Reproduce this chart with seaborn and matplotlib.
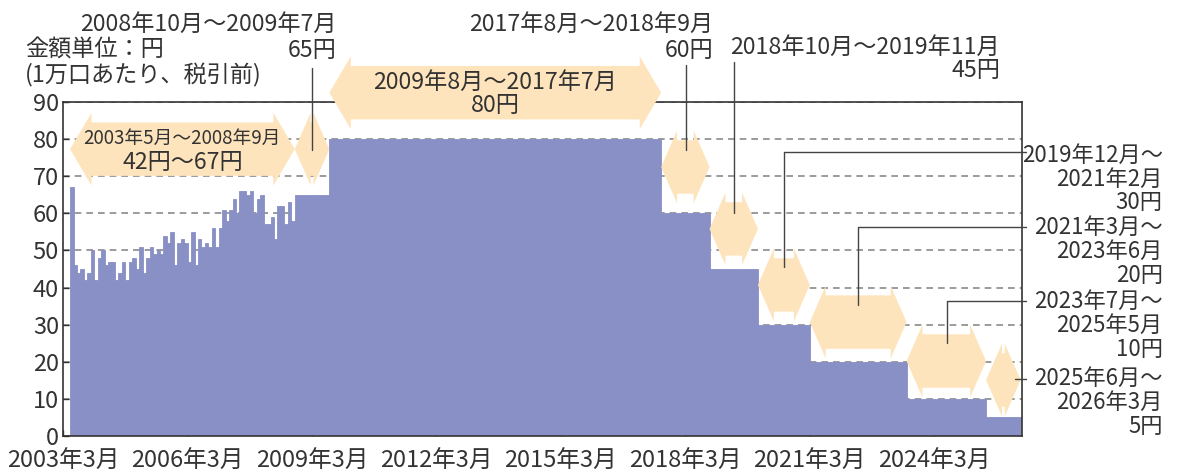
import pandas as pd
import seaborn as sns
import matplotlib.pyplot as plt
from matplotlib.patches import Polygon

# 月次の分配金(円) 2003年5月〜2008年9月
origin = pd.Period("2003-03", "M")
var_start = "2003-05"
var_values = [67, 46, 44, 45, 42, 44, 50, 42, 48, 50, 46, 47, 47, 42, 44, 47, 42, 47, 48, 45,
              51, 44, 48, 51, 49, 50, 49, 54, 52, 55, 46, 52, 53, 52, 47, 55, 46, 53, 51, 52,
              51, 56, 51, 56, 61, 58, 61, 64, 60, 66, 66, 65, 66, 60, 64, 65, 57, 57, 59, 53,
              62, 62, 57, 63, 58]

# 固定額の期間
period_starts = ["2008-10", "2009-08", "2017-08", "2018-10", "2019-12", "2021-03", "2023-07", "2025-06"]
period_ends = ["2009-07", "2017-07", "2018-09", "2019-11", "2021-02", "2023-06", "2025-05", "2026-03"]
period_values = [65, 80, 60, 45, 30, 20, 10, 5]

tick_years = [2003, 2006, 2009, 2012, 2015, 2018, 2021, 2024]
y_ticks = [0, 10, 20, 30, 40, 50, 60, 70, 80, 90]

BAR = "#8990c5"
PEACH = "#fee4bc"
INK = "#333333"
FS = 16.7

def k_of(s):
    return (pd.Period(s, "M") - origin).n

months, values = [], []
p0 = pd.Period(var_start, "M")
for i, v in enumerate(var_values):
    months.append((p0 + i - origin).n)
    values.append(v)
for s, e, v in zip(period_starts, period_ends, period_values):
    for k in range(k_of(s), k_of(e) + 1):
        months.append(k)
        values.append(v)
df = pd.DataFrame({"k": [m + 0.5 for m in months], "value": values})

sns.set_theme(style="ticks")
plt.rcParams["font.family"] = ["Noto Sans CJK JP", "DejaVu Sans"]

fig = plt.figure(figsize=(11.81, 4.71), dpi=100)
ax = fig.add_axes([0.0535, 0.0743, 0.8116, 0.7091])

sns.barplot(data=df, x="k", y="value", native_scale=True, width=1, color=BAR,
            saturation=1, errorbar=None, linewidth=0.6, edgecolor=BAR, ax=ax)

ax.set_xlim(0, 277.3)
ax.set_ylim(0, 90)
ax.set_yticks(y_ticks)
ax.set_xticks([k_of(f"{y}-03") for y in tick_years])
ax.set_xticklabels([f"{y}年3月" for y in tick_years])
ax.set_xlabel("")
ax.set_ylabel("")
ax.yaxis.grid(True, linestyle=(0, (4, 3)), color="#8a8a8a", lw=1.2)
ax.set_axisbelow(True)
ax.tick_params(direction="in", length=4, width=1, color=INK, labelsize=17, labelcolor=INK)
ax.tick_params(axis="x", pad=10)
ax.tick_params(axis="y", pad=3)
for sp in ax.spines.values():
    sp.set_visible(True)
    sp.set_color(INK)
    sp.set_linewidth(1.2)

# 両矢印(期間)
H, B = 9.8, 7.2
arrow_spans = [(var_start, "2008-09")] + list(zip(period_starts, period_ends))
arrow_y = [77.3, 77.3, 92.5, 72.5, 55.8, 40.7, 30.7, 20.2, 15.1]
arrow_head = [6.2, 4.6, 6.2, 4.6, 4.6, 4.6, 4.6, 4.6, 4.6]
for (s, e), yc, hd in zip(arrow_spans, arrow_y, arrow_head):
    x0, x1 = k_of(s), k_of(e) + 1
    h = min(hd, (x1 - x0) / 2)
    pts = [(x0, yc), (x0 + h, yc + H), (x0 + h, yc + B), (x1 - h, yc + B), (x1 - h, yc + H),
           (x1, yc), (x1 - h, yc - H), (x1 - h, yc - B), (x0 + h, yc - B), (x0 + h, yc - H)]
    ax.add_patch(Polygon(pts, closed=True, facecolor=PEACH, edgecolor="none",
                         zorder=5, clip_on=False))

def put(x, y, text, ha="center", size=FS):
    ax.text(x, y, text, ha=ha, va="center", fontsize=size, color=INK, zorder=7, clip_on=False)

# 矢印内の文字
put(34.5, 80.3, "2003年5月〜2008年9月", size=13.5)
put(34.5, 73.8, "42円〜67円")
put(125, 95.3, "2009年8月〜2017年7月")
put(125, 89.0, "80円")

# 単位
put(-11.05, 104.0, "金額単位：円", ha="left")
put(-11.05, 97.3, "(1万口あたり、税引前)", ha="left")

# 上部ラベル
put(79.2, 110.8, "2008年10月〜2009年7月", ha="right")
put(79.2, 104.0, "65円", ha="right")
put(188.0, 110.8, "2017年8月〜2018年9月", ha="right")
put(188.0, 104.0, "60円", ha="right")
put(271.0, 104.8, "2018年10月〜2019年11月", ha="right")
put(271.0, 98.4, "45円", ha="right")

# 右側ラベル
right_labels = [["2019年12月〜", "2021年2月", "30円"],
                ["2021年3月〜", "2023年6月", "20円"],
                ["2023年7月〜", "2025年5月", "10円"],
                ["2025年6月〜", "2026年3月", "5円"]]
right_y = [75.7, 56.2, 36.2, 15.4]
for lines, y0 in zip(right_labels, right_y):
    for i, t in enumerate(lines):
        put(318.1, y0 - i * 6.45, t, ha="right", size=16)

# 引き出し線
leaders = [
    ([72.0, 72.0], [99.2, 77.1]),
    ([180.2, 180.2], [100.0, 77.1]),
    ([194.0, 194.0], [100.8, 60.1]),
    ([278.5, 208.5, 208.5], [76.5, 76.5, 45.5]),
    ([278.5, 229.9, 229.9], [56.3, 56.3, 35.3]),
    ([278.5, 255.6, 255.6], [36.4, 36.4, 25.1]),
    ([278.5, 275.3], [15.4, 15.4]),
]
for xs, ys in leaders:
    ax.plot(xs, ys, color="#444444", lw=1.0, zorder=6, clip_on=False)

fig.savefig("out.png", dpi=100)
